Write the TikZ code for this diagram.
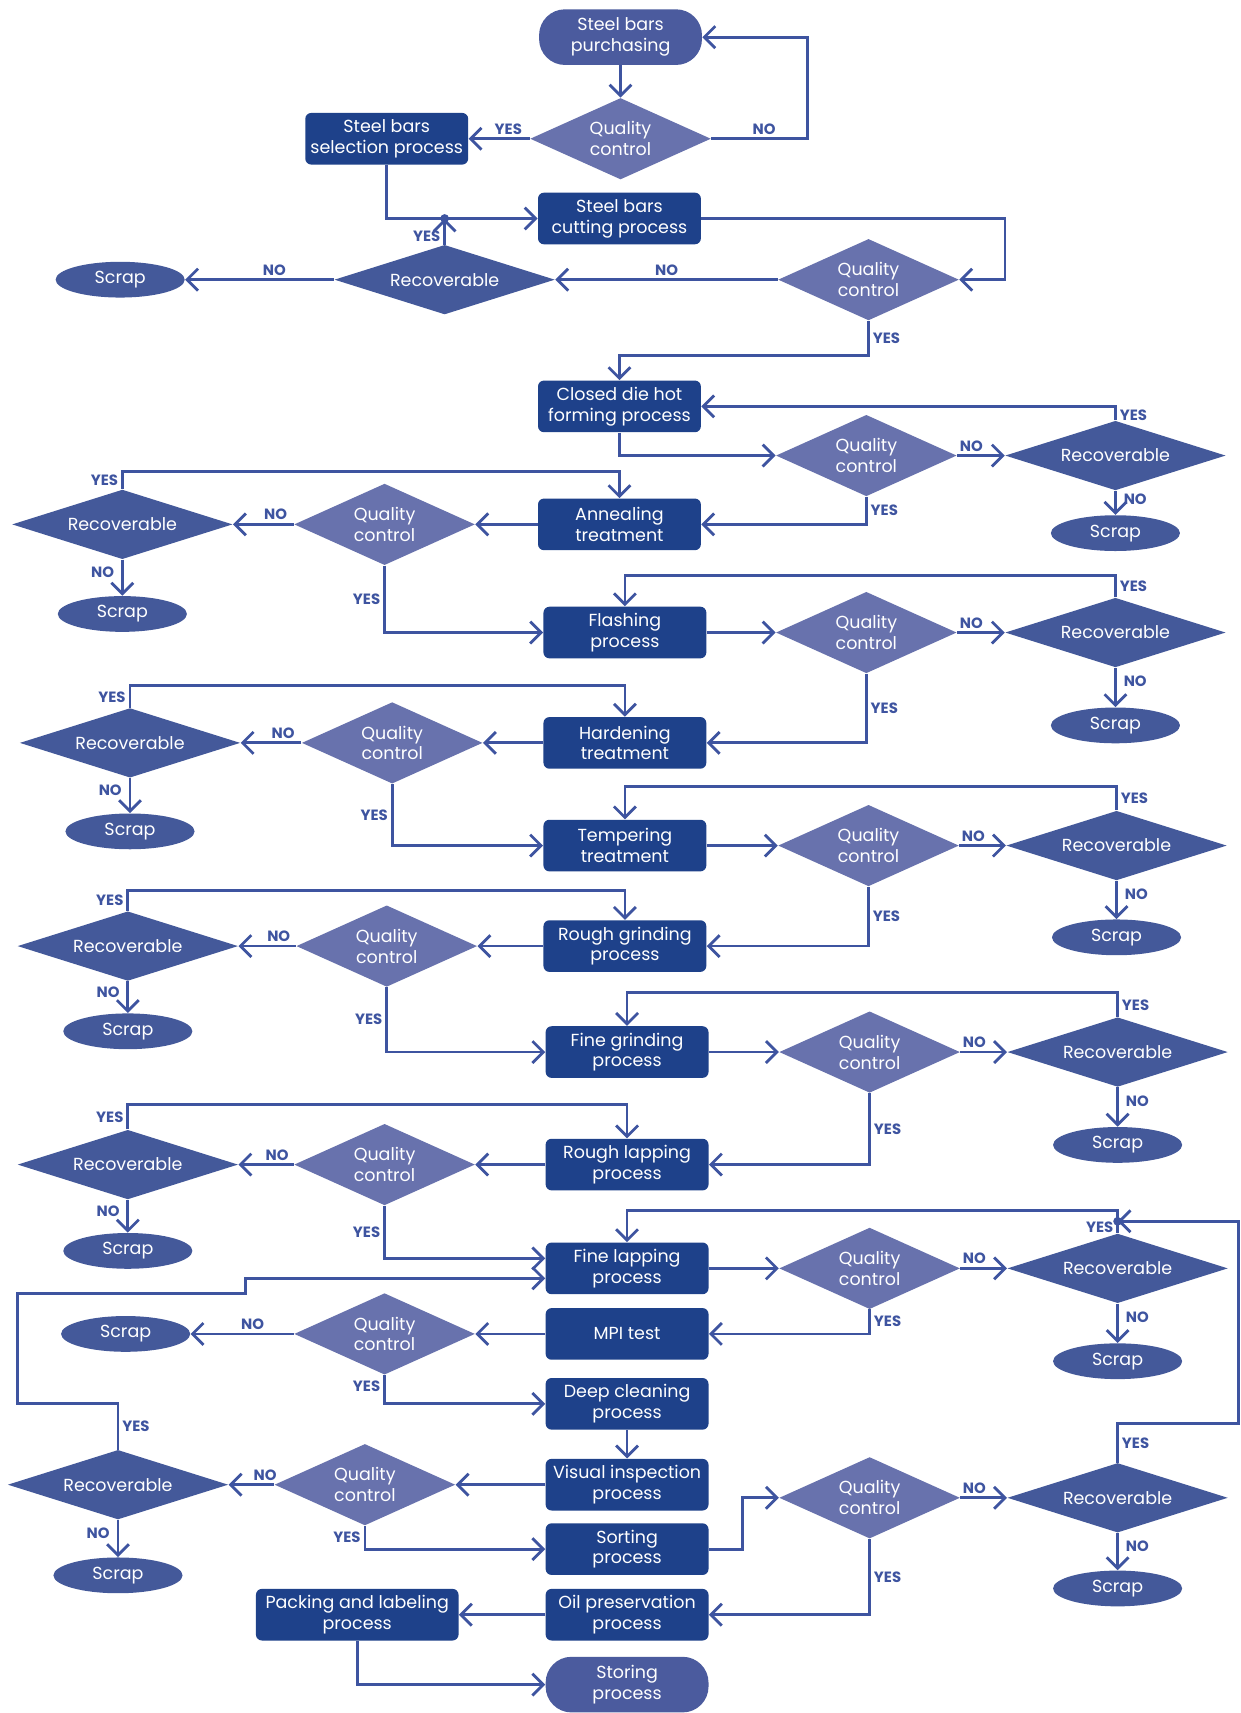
\documentclass[tikz,border=0pt]{standalone}
\usepackage{fontspec}
\setmainfont{Poppins}
\usetikzlibrary{shapes.geometric,arrows.meta}
\definecolor{boxblue}{HTML}{1E418A}
\definecolor{qcblue}{HTML}{6872AD}
\definecolor{recblue}{HTML}{44599A}
\definecolor{termblue}{HTML}{4B5B9E}
\definecolor{lineblue}{HTML}{3E54A0}
\tikzset{
    proc/.style={rectangle, rounded corners=3pt, fill=boxblue, text=white, minimum width=82pt, minimum height=26pt, inner sep=1pt, align=center},
    term/.style={proc, fill=termblue, rounded corners=13pt, minimum height=28pt},
    qc/.style={diamond, shape aspect=2, fill=qcblue, text=white, minimum width=91pt, minimum height=41pt, inner sep=0pt, align=center},
    rec/.style={diamond, shape aspect=3, fill=recblue, text=white, minimum width=111pt, minimum height=35pt, inner sep=0pt},
    scrap/.style={ellipse, fill=recblue, text=white, minimum width=65pt, minimum height=18pt, inner sep=0pt},
    flow/.style={draw=lineblue, line width=1.4pt, -{Straight Barb[length=5.5pt,width=11pt]}},
    lab/.style={text=lineblue, font=\fontsize{7.5}{8}\selectfont\bfseries, inner sep=1.5pt}
}
\begin{document}
\begin{tikzpicture}[x=0.55pt,y=-0.55pt,font=\fontsize{8.8}{10.5}\selectfont]
        \fill[white] (0,0) rectangle (1135,1568);
        % cutting stage
        \node[term] (buy) at (568,34) {Steel bars\\purchasing};
        \node[qc] (qc1) at (568,127) {Quality\\control};
        \node[proc] (select) at (354,127) {Steel bars\\selection process};
        \node[proc] (cut) at (567,200) {Steel bars\\cutting process};
        \node[qc] (qc2) at (795,256) {Quality\\control};
        \node[rec] (rec2) at (407,256) {Recoverable};
        \node[scrap] (scr2) at (110,256) {Scrap};
        % forming and heat treatment
        \node[proc] (forge) at (567,372) {Closed die hot\\forming process};
        \node[qc] (qc3) at (793,417) {Quality\\control};
        \node[rec] (rec3) at (1021,417) {Recoverable};
        \node[scrap] (scr3) at (1021,488) {Scrap};
        \node[proc] (anneal) at (567,480) {Annealing\\treatment};
        \node[qc] (qc4) at (352,480) {Quality\\control};
        \node[rec] (rec4) at (112,480) {Recoverable};
        \node[scrap] (scr4) at (112,562) {Scrap};
        \node[proc] (flash) at (572,579) {Flashing\\process};
        \node[qc] (qc5) at (793,579) {Quality\\control};
        \node[rec] (rec5) at (1021,579) {Recoverable};
        \node[scrap] (scr5) at (1021,664) {Scrap};
        \node[proc] (harden) at (572,680) {Hardening\\treatment};
        \node[qc] (qc6) at (359,680) {Quality\\control};
        \node[rec] (rec6) at (119,680) {Recoverable};
        \node[scrap] (scr6) at (119,761) {Scrap};
        \node[proc] (temper) at (572,774) {Tempering\\treatment};
        \node[qc] (qc7) at (795,774) {Quality\\control};
        \node[rec] (rec7) at (1022,774) {Recoverable};
        \node[scrap] (scr7) at (1022,858) {Scrap};
        % grinding and lapping
        \node[proc] (rgrind) at (572,866) {Rough grinding\\process};
        \node[qc] (qc8) at (354,866) {Quality\\control};
        \node[rec] (rec8) at (117,866) {Recoverable};
        \node[scrap] (scr8) at (117,944) {Scrap};
        \node[proc] (fgrind) at (574,963) {Fine grinding\\process};
        \node[qc] (qc9) at (796,963) {Quality\\control};
        \node[rec] (rec9) at (1023,963) {Recoverable};
        \node[scrap] (scr9) at (1023,1048) {Scrap};
        \node[proc] (rlap) at (574,1066) {Rough lapping\\process};
        \node[qc] (qc10) at (352,1066) {Quality\\control};
        \node[rec] (rec10) at (117,1066) {Recoverable};
        \node[scrap] (scr10) at (117,1145) {Scrap};
        \node[proc] (flap) at (574,1161) {Fine lapping\\process};
        \node[qc] (qc11) at (796,1161) {Quality\\control};
        \node[rec] (rec11) at (1023,1161) {Recoverable};
        \node[scrap] (scr11) at (1023,1246) {Scrap};
        % inspection and finishing
        \node[proc] (mpi) at (574,1221) {MPI test};
        \node[qc] (qc12) at (352,1221) {Quality\\control};
        \node[scrap] (scr12) at (115,1221) {Scrap};
        \node[proc] (clean) at (574,1285) {Deep cleaning\\process};
        \node[proc] (visual) at (574,1359) {Visual inspection\\process};
        \node[qc] (qc13) at (334,1359) {Quality\\control};
        \node[rec] (rec13) at (108,1359) {Recoverable};
        \node[scrap] (scr13) at (108,1442) {Scrap};
        \node[proc] (sort) at (574,1418) {Sorting\\process};
        \node[qc] (qc14) at (796,1371) {Quality\\control};
        \node[rec] (rec14) at (1023,1371) {Recoverable};
        \node[scrap] (scr14) at (1023,1454) {Scrap};
        \node[proc] (oil) at (574,1478) {Oil preservation\\process};
        \node[proc, minimum width=102pt] (pack) at (327,1478) {Packing and labeling\\process};
        \node[term] (store) at (574,1542) {Storing\\process};
        \coordinate (join) at (rec2.north |- cut.west);
        \coordinate (meet) at ([yshift=6pt]rec11.north);

        \draw[flow] (buy) -- (qc1);
        \draw[flow] (qc1.west) -- node[lab,above,pos=0.35] {YES} (select.east);
        \draw[flow] (qc1.east) -- node[lab,above,pos=0.55] {NO} ++(88,0) |- (buy.east);
        \draw[flow] (select.south) |- (cut.west);
        \draw[flow] (rec2.north) -- node[lab,left,pos=0.3] {YES} (join);
        \fill[lineblue] (join) circle (2.2pt);
        \draw[flow] (cut.east) -- ++(278,0) |- (qc2.east);
        \draw[flow] (qc2.west) -- node[lab,above] {NO} (rec2.east);
        \draw[flow] (rec2.west) -- node[lab,above,pos=0.4] {NO} (scr2.east);
        \draw[flow] (qc2.south) -- node[lab,right] {YES} ++(0,32) -| (forge.north);

        \draw[flow] (forge.south) |- (qc3.west);
        \draw[flow] (qc3.east) -- node[lab,above,pos=0.3] {NO} (rec3.west);
        \draw[flow] (rec3.north) |- node[lab,right,pos=0.2] {YES} (forge.east);
        \draw[flow] (rec3.south) -- node[lab,right=2pt,pos=0.35] {NO} (scr3.north);
        \draw[flow] (qc3.south) |- node[lab,right,pos=0.25] {YES} (anneal.east);
        \draw[flow] (anneal.west) -- (qc4.east);
        \draw[flow] (qc4.west) -- node[lab,above,pos=0.3] {NO} (rec4.east);
        \draw[flow] (rec4.north) -- node[lab,left] {YES} ++(0,-16) -| (anneal.north);
        \draw[flow] (rec4.south) -- node[lab,left=2pt,pos=0.35] {NO} (scr4.north);
        \draw[flow] (qc4.south) |- node[lab,left,pos=0.25] {YES} (flash.west);

        \draw[flow] (flash.east) -- (qc5.west);
        \draw[flow] (qc5.east) -- node[lab,above,pos=0.3] {NO} (rec5.west);
        \draw[flow] (rec5.north) -- node[lab,right] {YES} ++(0,-20) -| (flash.north);
        \draw[flow] (rec5.south) -- node[lab,right=2pt,pos=0.35] {NO} (scr5.north);
        \draw[flow] (qc5.south) |- node[lab,right,pos=0.25] {YES} (harden.east);
        \draw[flow] (harden.west) -- (qc6.east);
        \draw[flow] (qc6.west) -- node[lab,above,pos=0.3] {NO} (rec6.east);
        \draw[flow] (rec6.north) -- node[lab,left] {YES} ++(0,-20) -| (harden.north);
        \draw[flow] (rec6.south) -- node[lab,left=2pt,pos=0.35] {NO} (scr6.north);
        \draw[flow] (qc6.south) |- node[lab,left,pos=0.25] {YES} (temper.west);

        \draw[flow] (temper.east) -- (qc7.west);
        \draw[flow] (qc7.east) -- node[lab,above,pos=0.3] {NO} (rec7.west);
        \draw[flow] (rec7.north) -- node[lab,right] {YES} ++(0,-22) -| (temper.north);
        \draw[flow] (rec7.south) -- node[lab,right=2pt,pos=0.35] {NO} (scr7.north);
        \draw[flow] (qc7.south) |- node[lab,right,pos=0.25] {YES} (rgrind.east);
        \draw[flow] (rgrind.west) -- (qc8.east);
        \draw[flow] (qc8.west) -- node[lab,above,pos=0.3] {NO} (rec8.east);
        \draw[flow] (rec8.north) -- node[lab,left] {YES} ++(0,-19) -| (rgrind.north);
        \draw[flow] (rec8.south) -- node[lab,left=2pt,pos=0.35] {NO} (scr8.north);
        \draw[flow] (qc8.south) |- node[lab,left,pos=0.25] {YES} (fgrind.west);

        \draw[flow] (fgrind.east) -- (qc9.west);
        \draw[flow] (qc9.east) -- node[lab,above,pos=0.3] {NO} (rec9.west);
        \draw[flow] (rec9.north) -- node[lab,right] {YES} ++(0,-22) -| (fgrind.north);
        \draw[flow] (rec9.south) -- node[lab,right=2pt,pos=0.35] {NO} (scr9.north);
        \draw[flow] (qc9.south) |- node[lab,right,pos=0.25] {YES} (rlap.east);
        \draw[flow] (rlap.west) -- (qc10.east);
        \draw[flow] (qc10.west) -- node[lab,above,pos=0.3] {NO} (rec10.east);
        \draw[flow] (rec10.north) -- node[lab,left] {YES} ++(0,-23) -| (rlap.north);
        \draw[flow] (rec10.south) -- node[lab,left=2pt,pos=0.35] {NO} (scr10.north);
        \draw[flow] (qc10.south) |- node[lab,left,pos=0.25] {YES} ([yshift=5pt]flap.west);

        \draw[flow] (flap.east) -- (qc11.west);
        \draw[flow] (qc11.east) -- node[lab,above,pos=0.3] {NO} (rec11.west);
        \draw[flow] (rec11.north) -- node[lab,left] {YES} (meet) -- ++(0,-10) -| (flap.north);
        \fill[lineblue] (meet) circle (2.2pt);
        \draw[flow] (rec11.south) -- node[lab,right=2pt,pos=0.35] {NO} (scr11.north);
        \draw[flow] (qc11.south) |- node[lab,right,pos=0.25] {YES} (mpi.east);
        \draw[flow] (mpi.west) -- (qc12.east);
        \draw[flow] (qc12.west) -- node[lab,above,pos=0.4] {NO} (scr12.east);
        \draw[flow] (qc12.south) |- node[lab,left,pos=0.2] {YES} (clean.west);
        \draw[flow] (clean) -- (visual);

        \draw[flow] (visual.west) -- (qc13.east);
        \draw[flow] (qc13.west) -- node[lab,above,pos=0.2] {NO} (rec13.east);
        \draw[flow] (rec13.north) -- node[lab,right] {YES} ++(0,-42) -- ++(-92,0) -- ++(0,-101) -- ++(209,0) |- ([yshift=-5pt]flap.west);
        \draw[flow] (rec13.south) -- node[lab,left=2pt,pos=0.35] {NO} (scr13.north);
        \draw[flow] (qc13.south) |- node[lab,left,pos=0.25] {YES} (sort.west);
        \draw[flow] (sort.east) -- ++(31,0) |- (qc14.west);
        \draw[flow] (qc14.east) -- node[lab,above,pos=0.3] {NO} (rec14.west);
        \draw[flow] (rec14.north) -- node[lab,right] {YES} ++(0,-36) -- ++(111,0) |- (meet);
        \draw[flow] (rec14.south) -- node[lab,right=2pt,pos=0.35] {NO} (scr14.north);
        \draw[flow] (qc14.south) |- node[lab,right,pos=0.25] {YES} (oil.east);
        \draw[flow] (oil.west) -- (pack.east);
        \draw[flow] (pack.south) |- (store.west);
\end{tikzpicture}
\end{document}
